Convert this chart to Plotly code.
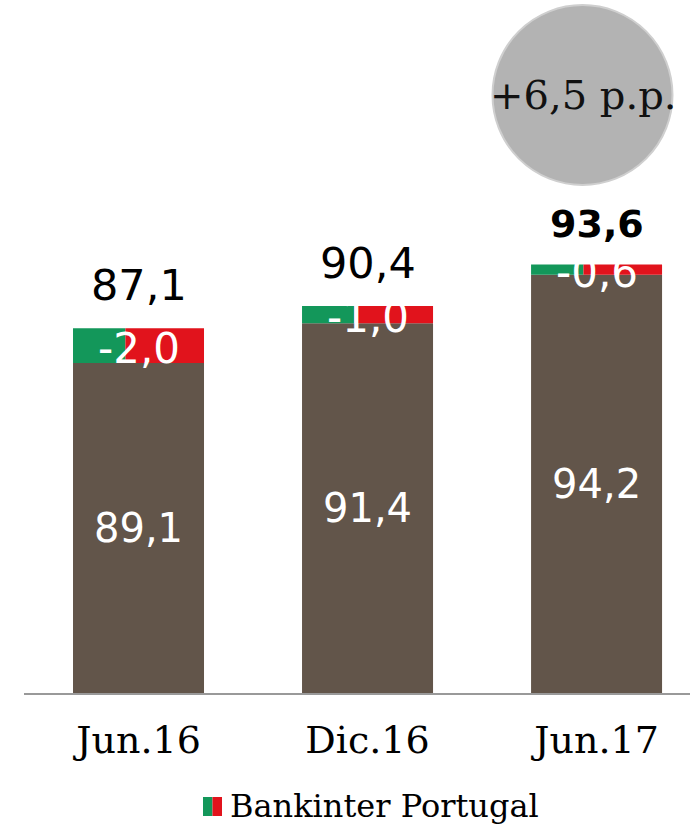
import plotly.graph_objects as go

categories = ["Jun.16", "Dic.16", "Jun.17"]
sin_portugal = [89.1, 91.4, 94.2]      # value without Portugal (brown bar)
efecto_portugal = [-2.0, -1.0, -0.6]   # Bankinter Portugal effect
total = [87.1, 90.4, 93.6]             # total value
variacion = "+6,5 p.p."
legend_name = "Bankinter Portugal"

AXIS_MIN = 70
AXIS_MAX = 110.1

BROWN = "#62554a"
GREEN = "#13975a"
RED = "#e1131c"

SANS = "DejaVu Sans"
SLAB = "DejaVu Serif"

PLOT_H = 693.0


def fmt(v):
    return f"{v:.1f}".replace(".", ",")


def py(pix):
    # page pixel y -> paper y
    return (693 - pix) / PLOT_H


def px(pix):
    return (pix - 24) / 666.0


fig = go.Figure()

BW = 0.572
fig.add_trace(go.Bar(
    x=categories, y=[v - AXIS_MIN for v in sin_portugal], base=AXIS_MIN,
    width=BW, marker=dict(color=BROWN, line=dict(width=0)),
    text=[fmt(v) for v in sin_portugal], textposition="inside",
    insidetextanchor="middle", textangle=0,
    textfont=dict(family=SANS, size=40, color="white"),
    showlegend=False, hoverinfo="skip",
))
fig.add_trace(go.Bar(
    x=categories, y=[abs(d) for d in efecto_portugal], base=sin_portugal,
    offset=-BW / 2, width=BW * 0.4,
    marker=dict(color=GREEN, line=dict(width=0)),
    showlegend=False, hoverinfo="skip",
))
fig.add_trace(go.Bar(
    x=categories, y=[abs(d) for d in efecto_portugal], base=sin_portugal,
    offset=-BW / 2 + BW * 0.4, width=BW * 0.6,
    marker=dict(color=RED, line=dict(width=0)),
    showlegend=False, hoverinfo="skip",
))

annotations = []
for i, c in enumerate(categories):
    top = sin_portugal[i] + abs(efecto_portugal[i])
    annotations.append(dict(
        x=c, y=sin_portugal[i] + abs(efecto_portugal[i]) / 2, xref="x", yref="y",
        text=fmt(efecto_portugal[i]), showarrow=False, yshift=-3,
        font=dict(family=SANS, size=42, color="white"),
    ))
    bold = i == len(categories) - 1
    annotations.append(dict(
        x=c, y=top, xref="x", yref="y", yanchor="bottom",
        text=("<b>%s</b>" % fmt(total[i])) if bold else fmt(total[i]),
        showarrow=False, yshift=16,
        font=dict(family=SANS, size=38 if bold else 43, color="black"),
    ))

# circle with variation
annotations.append(dict(
    x=px(582.5), y=py(95), xref="paper", yref="paper", text=variacion,
    xanchor="center", yanchor="middle",
    showarrow=False, font=dict(family=SLAB, size=40, color="#111111"),
))
# legend text
annotations.append(dict(
    x=px(228), y=py(806), xref="paper", yref="paper", text=legend_name,
    xanchor="left", yanchor="middle", showarrow=False,
    font=dict(family=SLAB, size=32, color="black"),
))

shapes = [
    dict(type="circle", xref="paper", yref="paper",
         xanchor=px(582.5), yanchor=py(95), xsizemode="pixel", ysizemode="pixel",
         x0=-90, x1=90, y0=-90, y1=90,
         fillcolor="#b3b3b3", line=dict(color="#cfcfcf", width=2), layer="below"),
    dict(type="rect", xref="paper", yref="paper",
         x0=px(203), x1=px(212.5), y0=py(816), y1=py(797),
         fillcolor=GREEN, line=dict(width=0)),
    dict(type="rect", xref="paper", yref="paper",
         x0=px(212.5), x1=px(222), y0=py(816), y1=py(797),
         fillcolor=RED, line=dict(width=0)),
]

fig.update_layout(
    width=690, height=825,
    margin=dict(l=24, r=0, t=0, b=132),
    paper_bgcolor="white", plot_bgcolor="white",
    barmode="overlay", showlegend=False,
    annotations=annotations, shapes=shapes,
    xaxis=dict(type="category", range=[-0.5, 2.408], showgrid=False,
               showline=True, linecolor="#999999", linewidth=2,
               ticks="", ticklabelstandoff=12,
               tickfont=dict(family=SLAB, size=38, color="black")),
    yaxis=dict(range=[AXIS_MIN, AXIS_MAX], visible=False, showgrid=False,
               zeroline=False),
)

fig.write_html(
    "out.html",
    config={"displayModeBar": False},
    post_script="document.body.style.margin='0';document.body.style.overflow='hidden';",
)
